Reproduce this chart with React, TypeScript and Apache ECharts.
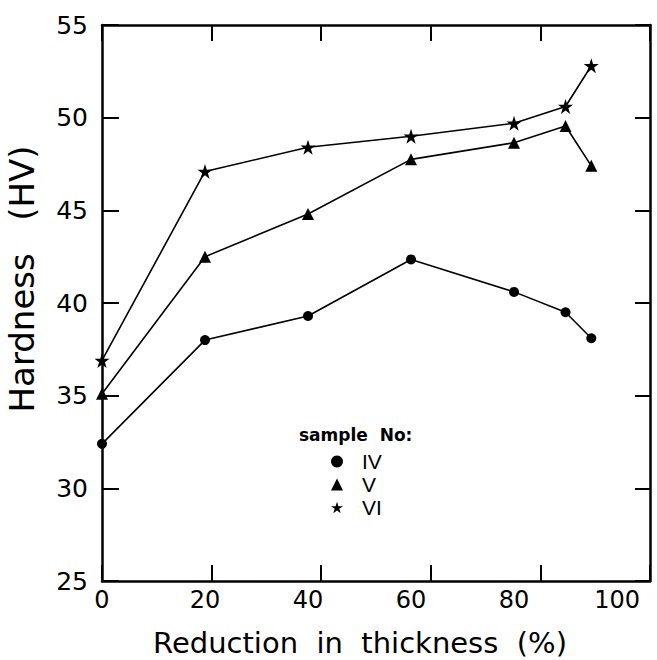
import React, { useEffect, useRef } from "react";
import * as echarts from "echarts";

const reductionPct = [0, 20, 40, 60, 80, 90, 95];
const sampleIV = [32.4, 38.0, 39.3, 42.35, 40.6, 39.5, 38.1];
const sampleV = [35.1, 42.5, 44.8, 47.75, 48.65, 49.55, 47.4];
const sampleVI = [36.9, 47.1, 48.4, 49.0, 49.7, 50.6, 52.8];
const seriesNames = ["IV", "V", "VI"];
const xTickLabels = [0, 20, 40, 60, 80, 100];
const yTicks = [25, 30, 35, 40, 45, 50, 55];

const STAR =
  "path://M0,-10 L2.245,-3.09 L9.51,-3.09 L3.633,1.18 L5.88,8.09 L0,3.82 L-5.88,8.09 L-3.633,1.18 L-9.51,-3.09 L-2.245,-3.09 Z";

export default function App() {
  const ref = useRef<HTMLDivElement>(null);
  useEffect(() => {
    if (!ref.current) return;
    const chart = echarts.init(ref.current, null, { renderer: "svg" });
    const pair = (vals: number[]) => reductionPct.map((x, i) => [x, vals[i]]);
    const lineStyle = { color: "#000", width: 1.6 };
    const axisFrame = { show: true, onZero: false, lineStyle: { color: "#000", width: 2.5 } };
    const tickFont = { fontFamily: "DejaVu Sans", fontWeight: "normal", fontSize: 24, color: "#000" };
    chart.setOption({
      animation: false,
      backgroundColor: "#fff",
      grid: { left: 102, top: 25, right: 7, bottom: 79, containLabel: false },
      title: {
        text: "sample  No:",
        left: 294,
        top: 421,
        textStyle: { fontFamily: "DejaVu Sans", fontSize: 17, fontWeight: "bold", color: "#000" },
      },
      legend: {
        orient: "vertical",
        left: 326,
        top: 446,
        itemGap: 2,
        itemWidth: 12,
        itemHeight: 12,
        textStyle: { fontFamily: "Liberation Sans", fontSize: 21, color: "#000", lineHeight: 21, padding: [0, 0, 0, 14] },
        data: [
          { name: seriesNames[0], icon: "circle" },
          { name: seriesNames[1], icon: "triangle" },
          { name: seriesNames[2], icon: STAR },
        ],
      },
      xAxis: [
        {
          type: "value",
          position: "bottom",
          min: 0,
          max: 106.4,
          interval: 20,
          axisLine: axisFrame,
          axisTick: { show: false },
          splitLine: { show: false },
          axisLabel: {
            ...tickFont,
            margin: 7,
            showMaxLabel: false,
            formatter: (v: number) => (xTickLabels.includes(v) ? String(v) : ""),
          },
        },
        {
          type: "value",
          position: "bottom",
          min: 0,
          max: 100,
          interval: 20,
          axisLine: { show: false },
          axisTick: { show: true, inside: true, length: 16, lineStyle: { color: "#000", width: 2 } },
          axisLabel: { show: false },
          splitLine: { show: false },
        },
        {
          type: "value",
          position: "top",
          min: 0,
          max: 100,
          interval: 20,
          axisLine: axisFrame,
          axisTick: { show: true, inside: true, length: 16, lineStyle: { color: "#000", width: 2 } },
          axisLabel: { show: false },
          splitLine: { show: false },
        },
      ],
      yAxis: [
        {
          type: "value",
          position: "left",
          min: yTicks[0],
          max: yTicks[yTicks.length - 1],
          interval: 5,
          axisLine: axisFrame,
          axisTick: { show: true, inside: true, length: 17, lineStyle: { color: "#000", width: 2 } },
          axisLabel: { ...tickFont, fontSize: 25, margin: 14 },
          splitLine: { show: false },
        },
        {
          type: "value",
          position: "right",
          min: yTicks[0],
          max: yTicks[yTicks.length - 1],
          interval: 5,
          axisLine: axisFrame,
          axisTick: { show: true, inside: true, length: 15, lineStyle: { color: "#000", width: 2 } },
          axisLabel: { show: false },
          splitLine: { show: false },
        },
      ],
      graphic: [
        {
          type: "text",
          x: 22,
          y: 279,
          rotation: Math.PI / 2,
          style: {
            text: "Hardness   (HV)",
            font: "34px 'DejaVu Sans'",
            fill: "#000",
            align: "center",
            verticalAlign: "middle",
          },
        },
        {
          type: "text",
          x: 360,
          y: 643,
          style: {
            text: "Reduction  in  thickness  (%)",
            font: "29px 'DejaVu Sans'",
            fill: "#000",
            align: "center",
            verticalAlign: "middle",
          },
        },
      ],
      series: [
        {
          name: seriesNames[0],
          type: "line",
          xAxisIndex: 0,
          yAxisIndex: 0,
          data: pair(sampleIV),
          symbol: "circle",
          symbolSize: 10,
          lineStyle,
          itemStyle: { color: "#000" },
          clip: false,
        },
        {
          name: seriesNames[1],
          type: "line",
          xAxisIndex: 0,
          yAxisIndex: 0,
          data: pair(sampleV),
          symbol: "triangle",
          symbolSize: 12,
          lineStyle,
          itemStyle: { color: "#000" },
          clip: false,
        },
        {
          name: seriesNames[2],
          type: "line",
          xAxisIndex: 0,
          yAxisIndex: 0,
          data: pair(sampleVI),
          symbol: STAR,
          symbolSize: 15,
          lineStyle,
          itemStyle: { color: "#000" },
          clip: false,
        },
      ],
    });
    return () => chart.dispose();
  }, []);
  return (
    <div
      ref={ref}
      style={{ position: "absolute", left: 0, top: 0, width: 657, height: 660 }}
    />
  );
}
